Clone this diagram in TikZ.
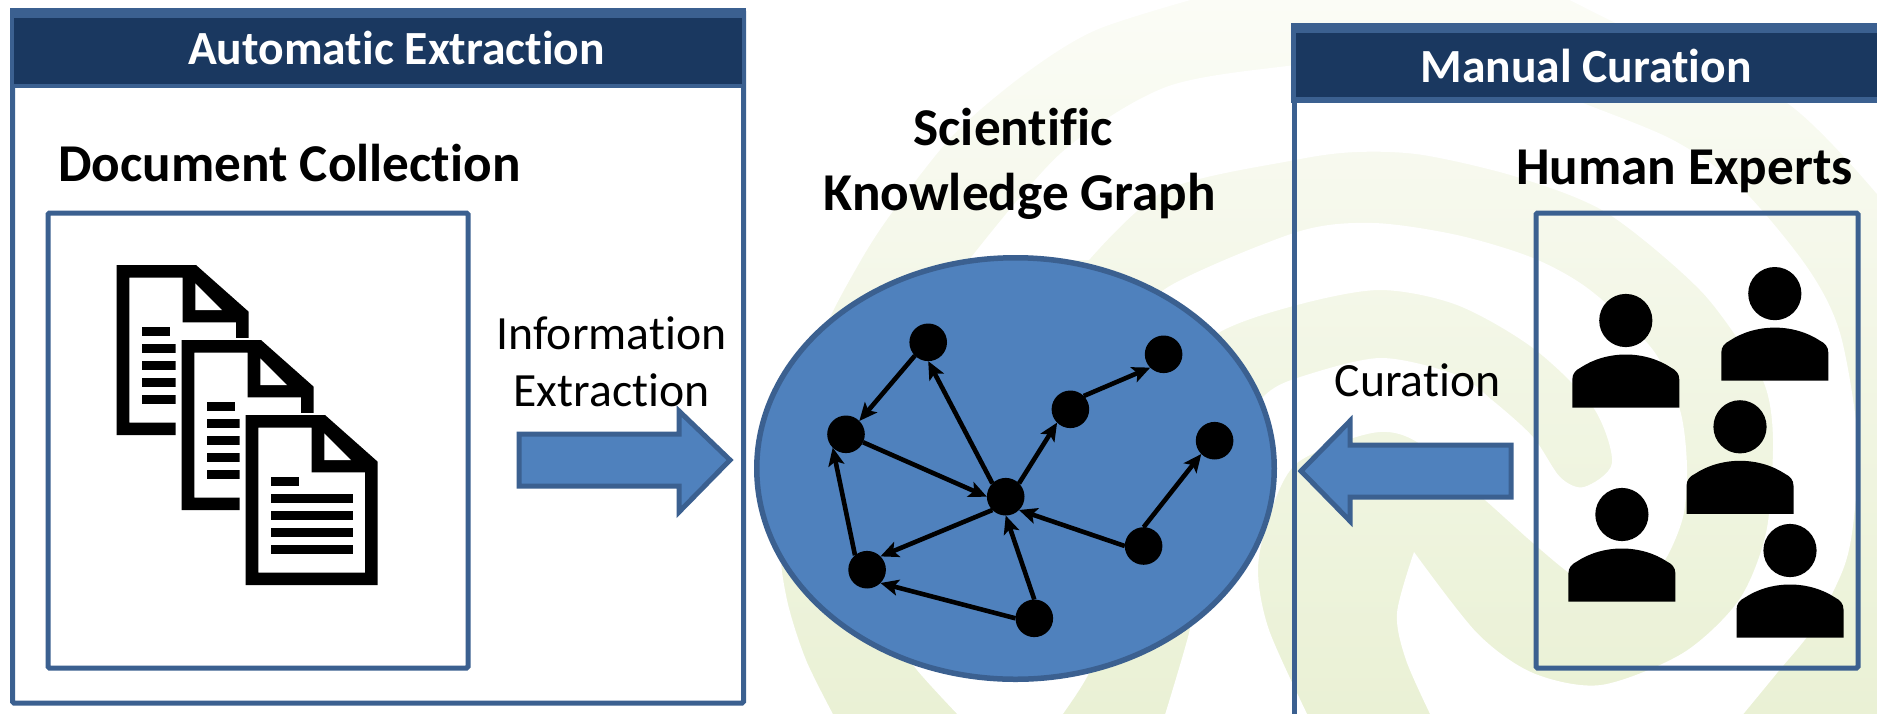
\documentclass[tikz,border=0pt]{standalone}
\usepackage{fontspec}
\setmainfont{Carlito}[Ligatures=NoCommon]
\usetikzlibrary{arrows.meta,shapes.geometric}
\definecolor{strokeblue}{HTML}{3B6090}
\definecolor{headblue}{HTML}{1A3860}
\definecolor{fillblue}{HTML}{4F81BD}
\definecolor{gA}{HTML}{FBFCF6}
\definecolor{gB}{HTML}{F2F6E5}
\definecolor{gC}{HTML}{EAF1D5}
\tikzset{
  panel/.style={draw=strokeblue,line width=5pt,rounded corners=1.5pt},
  blockarrow/.style={draw=strokeblue,fill=fillblue,line width=5pt,miter limit=10},
  headtext/.style={text=white,font=\bfseries\fontsize{47.6}{54}\selectfont,inner sep=0pt,anchor=base},
  titletext/.style={text=black,font=\bfseries\fontsize{53.2}{60}\selectfont,inner sep=0pt,anchor=base},
  plaintext/.style={text=black,font=\fontsize{47.7}{54}\selectfont,inner sep=0pt,anchor=base},
  kgnode/.style={circle,fill=black,minimum size=37.6pt,inner sep=0pt,outer sep=0pt},
  kgedge/.style={draw=black,line width=4.6pt,-{Stealth[length=18pt,width=16pt,inset=4pt]}},
}
\newcommand{\docicon}[2]{%
  \begin{scope}[shift={(#1,#2)}]
    \fill[white] (239.5,413) -- (325,413) -- (378,461) -- (378,590) -- (239.5,590) -- cycle;
    \fill[black,even odd rule] (245.7,415) -- (325,415) -- (377.7,461.7) -- (377.7,585) -- (245.7,585) -- cycle
      (258.3,427.7) -- (311.7,427.7) -- (311.7,472.3) -- (365,472.3) -- (365,572.7) -- (258.3,572.7) -- cycle;
    \fill[white] (324.3,433.3) -- (351,460) -- (324.3,460) -- cycle;
    \fill[black] (271,477) rectangle (299,485.7);
    \foreach \yy in {494,511,528,545}{\fill[black] (271,\yy) rectangle (353,\yy+8.7);}
  \end{scope}}
\newcommand{\person}[2]{%
  \begin{scope}[shift={(#1,#2)}]
    \fill[black] (0,0) ellipse [x radius=26.6pt,y radius=26.6pt];
    \fill[black] (-53.5,87) -- (-53.5,59) .. controls (-53.5,53) and (-50,49.5) .. (-45,47)
      .. controls (-33,39) and (-17,34) .. (0,34) .. controls (17,34) and (33,39) .. (45,47)
      .. controls (50,49.5) and (53.5,53) .. (53.5,59) -- (53.5,87) -- cycle;
  \end{scope}}
\begin{document}
\begin{tikzpicture}[x=1pt,y=-1pt]
\useasboundingbox (0,0) rectangle (1877,713);
% background swirl: gradient everywhere, white channels on top
\fill[top color=gA,bottom color=gC,middle color=gB] (0,0) rectangle (1877,713);
\fill[white] (-5,-5) -- plot[smooth] coordinates {(1201,-3) (1096,30) (1026,73) (955,133) (896,207) (861,260) (820,340) (790,450) (780,540) (787,600) (806,660) (835,718)} -- (-5,718) -- cycle;
\fill[white] (1882,-5) -- plot[smooth] coordinates {(1560,-5) (1640,35) (1787,103) (1882,200)} -- cycle;
\fill[white] plot[smooth] coordinates {(969,260) (1061,153) (1166,87) (1295,65) (1400,55) (1500,70) (1583,103) (1673,140) (1740,187) (1807,267) (1840,333) (1858,440) (1854,517) (1844,567) (1814,627) (1777,673) (1740,718)}
  -- plot[smooth] coordinates {(1432,718) (1406,660) (1397,613) (1414,552)}
  -- plot[smooth] coordinates {(1414,552) (1477,633) (1533,673) (1601,685) (1683,653) (1739,600) (1766,533) (1773,450) (1769,400) (1754,364) (1700,290) (1607,213) (1517,177) (1423,155) (1357,152) (1295,160) (1166,190) (1089,260)} -- cycle;
\fill[white] plot[smooth] coordinates {(890,630) (917,670) (961,718)} -- plot[smooth] coordinates {(1060,718) (1089,673) (1105,620)} -- cycle;
\fill[white] plot[smooth] coordinates {(1164,718) (1189,633) (1195,590)}
  -- plot[smooth] coordinates {(1240,430) (1265,395) (1297,378) (1380,358) (1457,375) (1492,400) (1533,437) (1560,477) (1584,487) (1612,463) (1593,407) (1533,348) (1457,305) (1380,290) (1297,305) (1218,333) (1150,390)}
  -- plot[smooth] coordinates {(1120,340) (1168,287) (1297,232) (1373,223) (1457,235) (1533,258) (1590,290) (1653,350) (1680,410) (1687,467) (1683,517) (1665,560) (1640,585) (1610,590) (1575,577) (1533,543) (1485,500) (1417,442) (1372,433) (1297,463) (1269,517) (1258,570) (1269,630) (1309,718)} -- cycle;
% left panel
\draw[panel,fill=white] (12.5,10.5) rectangle (743.5,703);
\fill[strokeblue] (10,8) rectangle (746,88);
\fill[headblue] (14,18) rectangle (742,84);
\node[headtext] (autohead) at (396.5,64) {Automatic Extraction};
\node[titletext] (doctitle) at (289.5,181.5) {Document Collection};
\draw[panel,fill=white] (48,213) rectangle (468,668);
\docicon{-129}{-150}
\docicon{-64}{-75}
\docicon{0}{0}
\node[plaintext] (infoa) at (611.5,349.5) {Information};
\node[plaintext] (infob) at (611.5,406.5) {Extraction};
\draw[blockarrow] (519,434) -- (679,434) -- (679,411) -- (730,460) -- (679,512) -- (679,486) -- (519,486) -- cycle;
% graph
\node[draw=strokeblue,fill=fillblue,ellipse,line width=5.5pt,minimum width=517.5pt,minimum height=421.5pt,inner sep=0pt] (kg) at (1015.5,468.5) {};
\node[titletext] (kgtitlea) at (1013,145.5) {Scientific};
\node[titletext] (kgtitleb) at (1019.7,210) {Knowledge Graph};
\node[kgnode] (a) at (928.2,342.3) {};
\node[kgnode] (b) at (846,434.3) {};
\node[kgnode] (c) at (1005.7,496.7) {};
\node[kgnode] (d) at (1070.4,409.3) {};
\node[kgnode] (e) at (1163.6,354.3) {};
\node[kgnode] (f) at (1214.6,440.7) {};
\node[kgnode] (g) at (1143.6,546) {};
\node[kgnode] (h) at (1034.3,618.3) {};
\node[kgnode] (i) at (867.1,569.7) {};
\draw[kgedge] (a.225) -- (b.45);
\draw[kgedge] (c.135) -- (a.270);
\draw[kgedge] (b.-25) -- (c.180);
\draw[kgedge] (c.45) -- (d.225);
\draw[kgedge] (d.45) -- (e.225);
\draw[kgedge] (g.90) -- (f.225);
\draw[kgedge] (g.180) -- (c.315);
\draw[kgedge] (h.90) -- (c.270);
\draw[kgedge] (h.180) -- (i.315);
\draw[kgedge] (c.225) -- (i.45);
\draw[kgedge] (i.130) -- (b.225);
% right panel
\draw[strokeblue,line width=5pt] (1294,40) -- (1294,720);
\fill[strokeblue] (1291,23) rectangle (1882,103);
\fill[headblue] (1296,33) rectangle (1882,97);
\node[headtext] (manhead) at (1586,82) {Manual Curation};
\node[titletext] (humantitle) at (1684.5,184.5) {Human Experts};
\draw[panel] (1536,213) rectangle (1858,668);
\node[plaintext] (cur) at (1417.5,396) {Curation};
\draw[blockarrow] (1511,445) -- (1350,445) -- (1350,421) -- (1301,471) -- (1350,521) -- (1350,497) -- (1511,497) -- cycle;
\person{1625.8}{320.5}
\person{1774.8}{293.6}
\person{1740}{426.8}
\person{1621.9}{514.5}
\person{1790}{550.5}
\end{tikzpicture}
\end{document}
